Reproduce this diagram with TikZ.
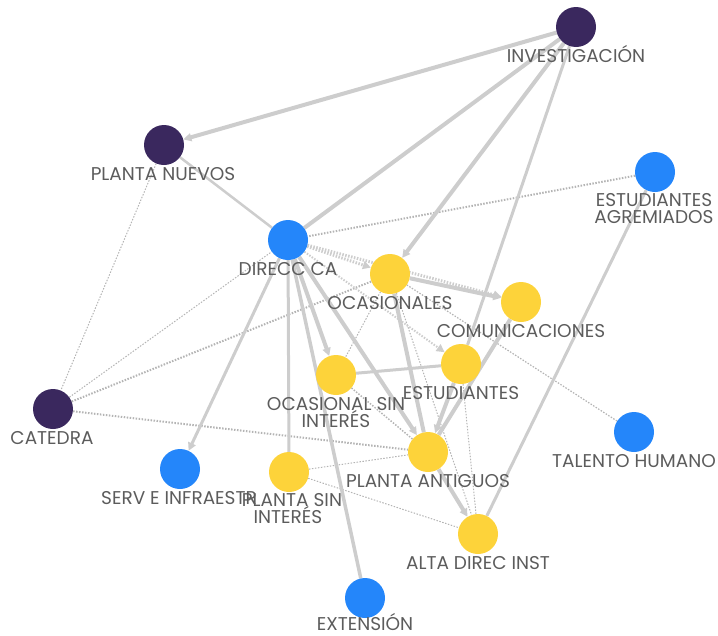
\documentclass[tikz,border=0pt]{standalone}
\usepackage{fontspec}
\setmainfont{Poppins}
\usetikzlibrary{arrows.meta,backgrounds}
\definecolor{cpurple}{RGB}{58,40,94}
\definecolor{cblue}{RGB}{36,134,250}
\definecolor{cyellow}{RGB}{253,211,58}
\definecolor{cedge}{RGB}{205,205,205}
\definecolor{cdot}{RGB}{180,180,180}
\definecolor{ctext}{RGB}{92,92,92}
\begin{document}
\begin{tikzpicture}[x=1pt,y=-1pt,
  vert/.style={circle,minimum size=40pt,inner sep=0pt},
  vp/.style={vert,fill=cpurple},
  vb/.style={vert,fill=cblue},
  vy/.style={vert,fill=cyellow},
  lab/.style={anchor=base,inner sep=0pt,text=ctext,font=\fontsize{18.5}{20}\selectfont},
  se/.style={draw=cedge,line width=#1},
  de/.style={draw=cdot,line width=#1,dash pattern=on 1.5pt off 1.5pt},
  arr/.style={-{Triangle[length=8pt,width=8pt]},color=cedge}
]
\useasboundingbox (0,0) rectangle (718,635);
% vertices
\node[vp] (inv) at (576,27) {};
\node[vp] (pn) at (164,145) {};
\node[vb] (agr) at (655,172) {};
\node[vb] (dir) at (288,240) {};
\node[vy] (oca) at (390,274) {};
\node[vy] (com) at (521,302) {};
\node[vy] (est) at (461,364) {};
\node[vy] (osi) at (336,375) {};
\node[vp] (cat) at (53,409) {};
\node[vb] (th) at (634,432) {};
\node[vy] (pa) at (428,452) {};
\node[vb] (serv) at (180,469) {};
\node[vy] (psi) at (289,472) {};
\node[vy] (alta) at (478,534) {};
\node[vb] (ext) at (365,598) {};
% labels
\node[lab] (inv-l) at (576,62) {INVESTIGACIÓN};
\node[lab] (pn-l) at (163,180) {PLANTA NUEVOS};
\node[lab] (agr-l1) at (654,206) {ESTUDIANTES};
\node[lab] (agr-l2) at (654,223) {AGREMIADOS};
\node[lab] (dir-l) at (288,275) {DIRECC CA};
\node[lab] (oca-l) at (390,309) {OCASIONALES};
\node[lab] (com-l) at (521,337) {COMUNICACIONES};
\node[lab] (est-l) at (461,399) {ESTUDIANTES};
\node[lab] (osi-l1) at (336,410) {OCASIONAL SIN};
\node[lab] (osi-l2) at (336,427) {INTERÉS};
\node[lab] (cat-l) at (52,444) {CATEDRA};
\node[lab] (th-l) at (634,467) {TALENTO HUMANO};
\node[lab] (pa-l) at (428,487) {PLANTA ANTIGUOS};
\node[lab] (serv-l) at (179,504) {SERV E INFRAESTR};
\node[lab] (psi-l1) at (292,506) {PLANTA SIN};
\node[lab] (psi-l2) at (288,523) {INTERÉS};
\node[lab] (alta-l) at (478,569) {ALTA DIREC INST};
\node[lab] (ext-l) at (365,630) {EXTENSIÓN};
% connectors
\begin{scope}[on background layer]
\draw[de=1pt] (pn) -- (cat);
\draw[de=1pt] (cat) -- (dir);
\draw[de=2pt] (cat) -- (oca);
\draw[de=2pt] (cat) -- (pa);
\draw[de=2pt] (agr) -- (dir);
\draw[de=1.2pt] (th) -- (oca);
\draw[de=1pt] (est) -- (alta);
\draw[de=1pt] (oca) -- (alta);
\draw[de=1pt] (psi) -- (pa);
\draw[de=1pt] (psi) -- (alta);
\draw[de=1.5pt] (osi) -- (pa);
\draw[de=1pt] (oca) -- (osi);
\draw[se=4pt,arr] (inv) -- (pn);
\draw[se=4pt] (inv) -- (dir);
\draw[se=4pt,arr] (inv) -- (oca);
\draw[se=3pt] (inv) -- (est);
\draw[se=3pt] (agr) -- (alta);
\draw[se=2.5pt] (pn) -- (dir);
\draw[se=3pt,arr] (dir) -- (serv);
\draw[se=3pt] (dir) -- (psi);
\draw[se=3.5pt] (dir) -- (ext);
\draw[se=4pt,arr] (dir) -- (osi);
\draw[se=4pt,arr] (dir) -- (pa);
\draw[se=4pt,arr] (oca) -- (com);
\draw[se=4pt] (oca) -- (pa);
\draw[se=4pt,arr] (est) -- (pa);
\draw[se=4pt] (com) -- (pa);
\draw[se=4pt,arr] (pa) -- (alta);
\draw[se=3pt] (osi) -- (est);
\draw[de=3pt,arr] (dir) -- (oca);
\draw[de=3pt,arr] (dir) -- (com);
\draw[de=2pt,arr] (dir) -- (est);
\end{scope}
\end{tikzpicture}
\end{document}
